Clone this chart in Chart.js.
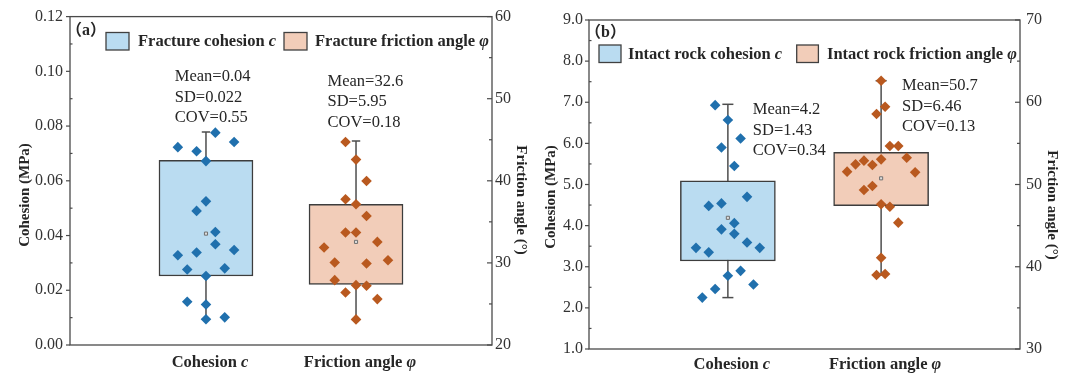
<!DOCTYPE html>
<html><head><meta charset="utf-8">
<script src="https://cdn.jsdelivr.net/npm/chart.js@4.4.1/dist/chart.umd.min.js"></script>
<style>
html,body{margin:0;padding:0;background:#fff;}
#wrap{position:relative;width:1080px;height:382px;overflow:hidden;background:#fff;}
canvas{position:absolute;top:0;}
</style></head><body>
<div id="wrap">
<canvas id="ca" width="540" height="382" style="left:0"></canvas>
<canvas id="cb" width="540" height="382" style="left:540px"></canvas>
</div>
<script>
// ---------------- DATA ----------------
const categories = ['Cohesion', 'Friction angle'];
const categorySymbols = ['c', 'φ'];

// Panel (a): fracture
const fractureCohesion = [0.0776,0.0723,0.0708,0.0742,0.0672,0.0525,0.0490,0.0413,0.0368,0.0328,0.0338,0.0347,0.0276,0.0280,0.0252,0.0158,0.0148,0.0094,0.0101];
const fractureCohesionJitter = [0.0625,-0.1875,-0.0625,0.1875,0,0,-0.0625,0.0625,0.0625,-0.1875,-0.0625,0.1875,-0.125,0.125,0,-0.125,0,0,0.125];
const fractureFriction = [44.72,42.58,39.98,37.75,37.14,35.72,33.70,33.70,32.56,31.87,30.05,29.93,30.33,27.90,27.29,27.21,26.40,25.59,23.12];
const fractureFrictionJitter = [-0.07,0,0.07,-0.07,0,0.07,-0.07,0,0.142,-0.213,-0.142,0.07,0.213,-0.142,0,0.07,-0.07,0.142,0];
// box summaries: [whisker low, Q1, Q3, whisker high, mean]
const fractureCohesionBox = [0.0094,0.0252,0.0675,0.0778,0.0407];
const fractureFrictionBox = [23.12,27.38,37.14,44.84,32.56];
const fractureMean = [0.04, 32.6];
const fractureSD = [0.022, 5.95];
const fractureCOV = [0.55, 0.18];
const fractureCohesionTicks = [0,0.02,0.04,0.06,0.08,0.10,0.12];
const fractureFrictionTicks = [20,30,40,50,60];
const fractureLegend = ['Fracture cohesion', 'Fracture friction angle'];

// Panel (b): intact rock
const intactCohesion = [6.93,6.57,6.12,5.90,5.45,4.70,4.54,4.48,4.06,3.91,3.80,3.59,3.46,3.46,3.35,2.90,2.78,2.57,2.46,2.25];
const intactCohesionJitter = [-0.083,0,0.083,-0.042,0.042,0.125,-0.042,-0.125,0.042,-0.042,0.042,0.125,-0.208,0.208,-0.125,0.083,0,0.167,-0.083,-0.167];
const intactFriction = [62.62,59.46,58.57,54.68,54.68,53.06,53.26,51.56,51.48,52.45,52.90,52.37,49.82,49.33,47.59,47.30,45.36,41.10,39.00,39.12];
const intactFrictionJitter = [0,0.026,-0.03,0.057,0.112,0,0.167,-0.222,0.222,-0.167,-0.112,-0.057,-0.057,-0.112,0,0.057,0.112,0,-0.03,0.026];
const intactCohesionBox = [2.25,3.14,5.09,6.95,4.19];
const intactFrictionBox = [39.00,47.42,53.91,62.62,50.75];
const intactMean = [4.2, 50.7];
const intactSD = [1.43, 6.46];
const intactCOV = [0.34, 0.13];
const intactCohesionTicks = [1,2,3,4,5,6,7,8,9];
const intactFrictionTicks = [30,40,50,60,70];
const intactLegend = ['Intact rock cohesion', 'Intact rock friction angle'];

// ---------------- STYLE ----------------
const FONT = '"Liberation Serif","Times New Roman",serif';
const fnt = (size, weight, style) => `${style||'normal'} ${weight||'normal'} ${size}px ${FONT}`;
const FILLS = ['#badcf1', '#f2cdb9'];
const MARKS = ['#2070ad', '#b9591f'];
const AXIS_COLOR = '#4a4a4a';
const TEXT_COLOR = '#262626';

function drawRich(ctx, parts, x, y, align) {
  let total = 0;
  parts.forEach(p => { ctx.font = p.font; p.w = ctx.measureText(p.text).width; total += p.w; });
  let cx = align === 'center' ? x - total / 2 : x;
  ctx.textAlign = 'left';
  parts.forEach(p => { ctx.font = p.font; ctx.fillText(p.text, cx, y); cx += p.w; });
}

function buildChart(canvasId, S, D) {
  const series = [
    {vals: D.cohesion, jit: D.cohesionJitter, box: D.cohesionBox, axis: 'y', pos: 1, fill: FILLS[0], mark: MARKS[0]},
    {vals: D.friction, jit: D.frictionJitter, box: D.frictionBox, axis: 'y2', pos: 2, fill: FILLS[1], mark: MARKS[1]}
  ];
  const datasets = [];
  series.forEach(s => {
    datasets.push({type: 'scatter', order: 0, yAxisID: s.axis,
      data: s.vals.map((v, i) => ({x: s.pos + s.jit[i], y: v})),
      pointStyle: 'rectRot', pointRadius: 5.3, pointBackgroundColor: s.mark, pointBorderWidth: 0, showLine: false});
    datasets.push({type: 'scatter', order: 1, yAxisID: s.axis,
      data: [{x: s.pos, y: s.box[4]}],
      pointStyle: 'rect', pointRadius: 2.2, pointBackgroundColor: '#dddddd', pointBorderColor: '#707070', pointBorderWidth: 1});
    datasets.push({type: 'bar', order: 2, yAxisID: s.axis,
      data: [{x: s.pos, y: [s.box[1], s.box[2]]}],
      backgroundColor: s.fill, borderColor: '#3d3d3d', borderWidth: 1.5, borderSkipped: false,
      barThickness: S.barW, grouped: false});
    const line = {type: 'scatter', order: 3, yAxisID: s.axis, showLine: true, borderColor: '#4d4d4d', borderWidth: 1.5, pointRadius: 0, fill: false};
    datasets.push(Object.assign({}, line, {data: [{x: s.pos, y: s.box[0]}, {x: s.pos, y: s.box[3]}]}));
    datasets.push(Object.assign({}, line, {data: [{x: s.pos - S.cap, y: s.box[0]}, {x: s.pos + S.cap, y: s.box[0]}]}));
    datasets.push(Object.assign({}, line, {data: [{x: s.pos - S.cap, y: s.box[3]}, {x: s.pos + S.cap, y: s.box[3]}]}));
  });

  const decorations = {
    id: 'decorations',
    afterDraw(chart) {
      const ctx = chart.ctx;
      const a = chart.chartArea;
      const sy = chart.scales.y, sy2 = chart.scales.y2, sx = chart.scales.x;
      ctx.save();
      // frame
      ctx.strokeStyle = AXIS_COLOR; ctx.lineWidth = 1.3;
      ctx.strokeRect(a.left, a.top, a.right - a.left, a.bottom - a.top);
      // tick marks
      ctx.lineWidth = 1.2;
      const tickSet = (scale, ticks, x, majorLen, minorLen) => {
        ticks.forEach((v, i) => {
          const y = scale.getPixelForValue(v);
          ctx.beginPath(); ctx.moveTo(x, y); ctx.lineTo(x + majorLen, y); ctx.stroke();
          if (i < ticks.length - 1) {
            const ym = scale.getPixelForValue((v + ticks[i + 1]) / 2);
            ctx.beginPath(); ctx.moveTo(x, ym); ctx.lineTo(x + minorLen, ym); ctx.stroke();
          }
        });
      };
      tickSet(sy, D.yTicks, a.left, -4, 2.5);
      tickSet(sy2, D.y2Ticks, a.right, -5, -3);
      // axis titles
      ctx.fillStyle = TEXT_COLOR; ctx.textBaseline = 'middle'; ctx.textAlign = 'center';
      ctx.font = fnt(15, 'bold');
      ctx.save(); ctx.translate(S.yTitle[0], S.yTitle[1]); ctx.rotate(-Math.PI / 2);
      ctx.fillText('Cohesion (MPa)', 0, 0); ctx.restore();
      ctx.save(); ctx.translate(S.y2Title[0], S.y2Title[1]); ctx.rotate(Math.PI / 2);
      ctx.fillText('Friction angle (°)', 0, 0); ctx.restore();
      // category labels
      categories.forEach((c, i) => {
        const x = sx.getPixelForValue(i + 1) + 4;
        drawRich(ctx, [{text: c + ' ', font: fnt(16.5, 'bold')}, {text: categorySymbols[i], font: fnt(16.5, 'bold', 'italic')}], x, a.bottom + S.xLabelDy, 'center');
      });
      // panel label
      ctx.font = `normal bold 16px ${FONT}, "Noto Sans CJK SC"`;
      ctx.textAlign = 'left';
      ctx.fillText(S.panelLabel, S.panelPos[0], S.panelPos[1]);
      // legend
      S.legend.forEach((L, i) => {
        ctx.fillStyle = FILLS[i]; ctx.fillRect(L.box[0], L.box[1], L.box[2], L.box[3]);
        ctx.strokeStyle = '#404040'; ctx.lineWidth = 1.3; ctx.strokeRect(L.box[0], L.box[1], L.box[2], L.box[3]);
        ctx.fillStyle = TEXT_COLOR;
        drawRich(ctx, [{text: D.legend[i] + ' ', font: fnt(16.5, 'bold')}, {text: categorySymbols[i], font: fnt(16.5, 'bold', 'italic')}], L.text, L.box[1] + L.box[3] / 2 + 0.5, 'left');
      });
      // statistics text
      ctx.font = fnt(16.5); ctx.fillStyle = TEXT_COLOR; ctx.textAlign = 'left';
      S.stats.forEach((st, i) => {
        const sc = i === 0 ? sy : sy2;
        const x = sx.getPixelForValue(st[0]);
        const y = sc.getPixelForValue(st[1]);
        ctx.fillText('Mean=' + D.mean[i], x, y);
        ctx.fillText('SD=' + D.sd[i], x, y + 20.5);
        ctx.fillText('COV=' + D.cov[i], x, y + 41);
      });
      ctx.restore();
    }
  };

  const yScale = (ticks, pos, width, pad, dec) => ({
    type: 'linear', position: pos, min: ticks[0], max: ticks[ticks.length - 1],
    afterBuildTicks: s => { s.ticks = ticks.map(v => ({value: v})); },
    afterFit: s => { s.width = width; },
    ticks: {font: {family: FONT, size: 16}, color: '#333', padding: pad, autoSkip: false, callback: v => Number(v).toFixed(dec)},
    grid: {display: false, drawTicks: false, tickLength: 0}, border: {display: false}
  });

  return new Chart(document.getElementById(canvasId), {
    type: 'scatter',
    data: {datasets},
    options: {
      responsive: false, animation: false, devicePixelRatio: 1, events: [],
      layout: {padding: {top: S.top, left: 0, right: 0, bottom: 0}},
      plugins: {legend: {display: false}, tooltip: {enabled: false}},
      scales: {
        x: {type: 'linear', min: 0.375, max: 2.625, afterFit: s => { s.height = S.bottomH; },
            ticks: {display: false}, grid: {display: false, drawTicks: false}, border: {display: false}},
        y: yScale(D.yTicks, 'left', S.leftW, S.leftPad, S.yDec),
        y2: yScale(D.y2Ticks, 'right', S.rightW, S.rightPad, S.y2Dec)
      }
    },
    plugins: [decorations]
  });
}

buildChart('ca', {
  top: 16, bottomH: 37, leftW: 70, rightW: 48, leftPad: 7, rightPad: 3, yDec: 2, y2Dec: 0,
  barW: 94, cap: 0.028, xLabelDy: 18,
  yTitle: [25, 195], y2Title: [521, 200],
  panelLabel: '（a）', panelPos: [66, 31],
  legend: [{box: [106, 32.5, 23, 17.5], text: 138}, {box: [284, 32.5, 23, 17.5], text: 315}],
  stats: [[0.792, 0.0979], [1.81, 52.1]]
}, {
  cohesion: fractureCohesion, cohesionJitter: fractureCohesionJitter,
  friction: fractureFriction, frictionJitter: fractureFrictionJitter,
  cohesionBox: fractureCohesionBox, frictionBox: fractureFrictionBox,
  mean: fractureMean, sd: fractureSD, cov: fractureCOV,
  yTicks: fractureCohesionTicks, y2Ticks: fractureFrictionTicks, legend: fractureLegend
});

buildChart('cb', {
  top: 20, bottomH: 33, leftW: 49, rightW: 60, leftPad: 6, rightPad: 6, yDec: 1, y2Dec: 0,
  barW: 95, cap: 0.036, xLabelDy: 16,
  yTitle: [11, 197], y2Title: [511.7, 205],
  panelLabel: '（b）', panelPos: [45, 32.5],
  legend: [{box: [59, 45, 22, 17.5], text: 88}, {box: [256.7, 45, 21.7, 17.5], text: 287}],
  stats: [[1.163, 6.81], [2.137, 61.98]]
}, {
  cohesion: intactCohesion, cohesionJitter: intactCohesionJitter,
  friction: intactFriction, frictionJitter: intactFrictionJitter,
  cohesionBox: intactCohesionBox, frictionBox: intactFrictionBox,
  mean: intactMean, sd: intactSD, cov: intactCOV,
  yTicks: intactCohesionTicks, y2Ticks: intactFrictionTicks, legend: intactLegend
});
</script>
</body></html>
